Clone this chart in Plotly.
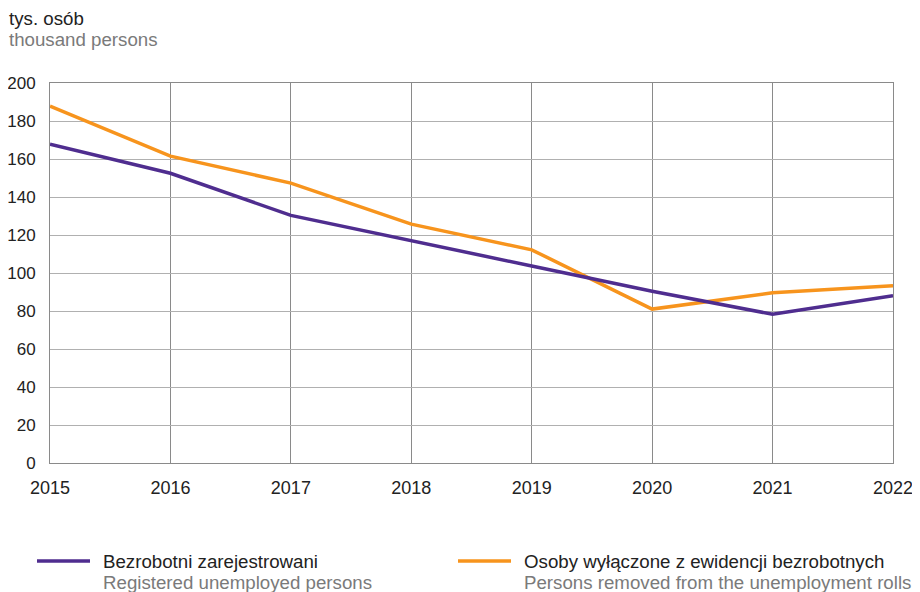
import plotly.graph_objects as go

years = [2015, 2016, 2017, 2018, 2019, 2020, 2021, 2022]
registered = [167.8, 152.5, 130.3, 116.8, 103.7, 90.4, 78.3, 88.0]
removed = [187.8, 161.5, 147.3, 125.7, 112.2, 81.0, 89.6, 93.3]

name_pl = ["Bezrobotni zarejestrowani", "Osoby wyłączone z ewidencji bezrobotnych"]
name_en = ["Registered unemployed persons", "Persons removed from the unemployment rolls"]
colors = ["#4f2d8f", "#f7941d"]

FONT = "Liberation Sans, Arial, sans-serif"
TXT = 18.7

fig = go.Figure()
fig.add_trace(go.Scatter(x=years, y=removed, mode="lines", name=name_pl[1],
                         line=dict(color=colors[1], width=3.5), showlegend=False))
fig.add_trace(go.Scatter(x=years, y=registered, mode="lines", name=name_pl[0],
                         line=dict(color=colors[0], width=3.5), showlegend=False))

# page offset of 8px (body margin) compensated in width/height/margins
fig.update_layout(
    width=912, height=584,
    margin=dict(l=42, r=27, t=75, b=129, autoexpand=False),
    paper_bgcolor="white", plot_bgcolor="white",
    font=dict(family=FONT, size=17, color="#222"),
    xaxis=dict(range=[2015, 2022], tickvals=years, ticktext=[str(y) for y in years],
               tickfont=dict(size=18),
               showgrid=True, gridcolor="#8a8a8a", gridwidth=1,
               showline=True, linecolor="#8a8a8a", linewidth=1, mirror=True,
               ticks="", ticklabelstandoff=8, zeroline=False, fixedrange=True,
               automargin=False),
    yaxis=dict(range=[0, 200], dtick=20, showgrid=True, gridcolor="#b0b0b0", gridwidth=1,
               tickfont=dict(size=17),
               showline=True, linecolor="#8a8a8a", linewidth=1, mirror=True,
               ticks="", ticklabelstandoff=10, zeroline=False, fixedrange=True,
               automargin=False),
)

PW, PH = 843, 380


def px(X):
    return (X - 50) / PW


def py(Y):
    return (463 - Y) / PH


fig.add_annotation(text="tys. osób", xref="paper", yref="paper",
                   x=px(7), y=py(19), xanchor="left", yanchor="middle",
                   showarrow=False, font=dict(size=TXT, color="#222"))
fig.add_annotation(text="thousand persons", xref="paper", yref="paper",
                   x=px(7), y=py(39), xanchor="left", yanchor="middle",
                   showarrow=False, font=dict(size=TXT, color="#7a7a7a"))

# Legend (custom)
leg_x = [37, 458]
for i in range(2):
    fig.add_shape(type="line", xref="paper", yref="paper",
                  x0=px(leg_x[i]), x1=px(leg_x[i] + 53), y0=py(561), y1=py(561),
                  line=dict(color=colors[i], width=3.5))
    xt = px(leg_x[i] + 64)
    fig.add_annotation(text=name_pl[i], xref="paper", yref="paper", x=xt, y=py(561),
                       xanchor="left", yanchor="middle", showarrow=False,
                       font=dict(size=TXT, color="#222"))
    fig.add_annotation(text=name_en[i], xref="paper", yref="paper", x=xt, y=py(582),
                       xanchor="left", yanchor="middle", showarrow=False,
                       font=dict(size=TXT, color="#7a7a7a"))

fig.write_html("out.html")
